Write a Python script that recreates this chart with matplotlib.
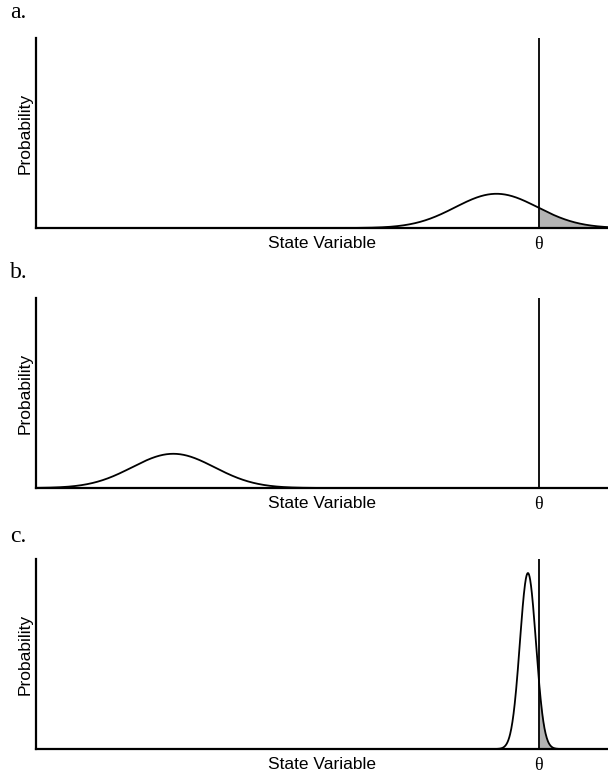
import matplotlib
matplotlib.use('Agg')
import matplotlib.pyplot as plt
import matplotlib.transforms as mtransforms
import numpy as np

# 三个面板的分布参数 (状态变量单位 0-100)
panel_labels = ['a.', 'b.', 'c.']
means = [80.5, 24.0, 86.0]
sigmas = [7.2, 7.2, 1.4]
theta = 87.9
x_range = (0.0, 100.0)
y_top = 0.3077

fig = plt.figure(figsize=(6.08, 7.73), dpi=100)

# 每个面板的位置 (像素 -> 图形坐标)
W, H = 608.0, 773.0
bottoms_px = [228, 488, 749]
label_y_px = [12, 272, 537]

x = np.linspace(x_range[0], x_range[1], 2000)

for label, mu, sd, bpx, lpx in zip(panel_labels, means, sigmas, bottoms_px, label_y_px):
    ax = fig.add_axes([36 / W, 1 - bpx / H, 572 / W, 190 / H])
    y = np.exp(-0.5 * ((x - mu) / sd) ** 2) / (sd * np.sqrt(2 * np.pi))

    # 阈值右侧的尾部阴影
    tail = x >= theta
    ax.fill_between(x[tail], 0, y[tail], color='#b3b3b3', linewidth=0)
    ax.plot(x, y, color='black', linewidth=1.3)
    ax.axvline(theta, color='black', linewidth=1.3)

    ax.set_xlim(*x_range)
    ax.set_ylim(0, y_top)
    for side in ['top', 'right']:
        ax.spines[side].set_visible(False)
    for side in ['left', 'bottom']:
        ax.spines[side].set_linewidth(1.6)
    ax.set_xticks([])
    ax.set_yticks([])

    # 坐标轴标签
    ax.text(0.5, -0.04, 'State Variable', transform=ax.transAxes, ha='center', va='top',
            fontsize=12.5, family='Liberation Sans')
    ax.text(-0.019, 0.5, 'Probability', transform=ax.transAxes, rotation=90, ha='center',
            va='center', fontsize=12.5, family='Liberation Sans')
    trans = mtransforms.blended_transform_factory(ax.transData, ax.transAxes)
    ax.text(theta, -0.085, 'θ', transform=trans, ha='center', va='center',
            fontsize=13, family='Liberation Serif')

    fig.text(10 / W, 1 - lpx / H, label, ha='left', va='center', fontsize=17,
             family='Liberation Serif')

fig.savefig('out.png', dpi=100)
